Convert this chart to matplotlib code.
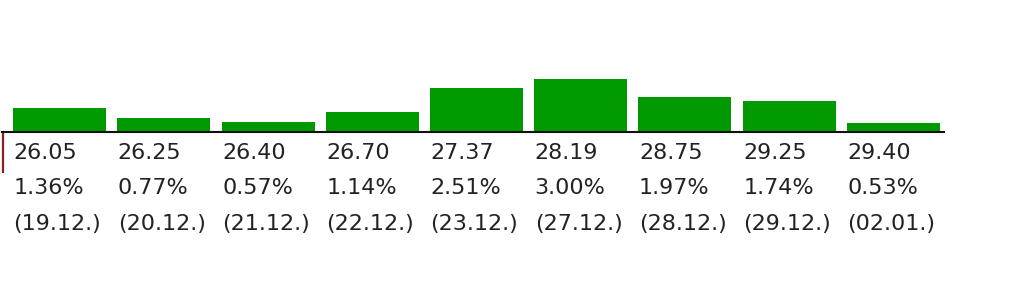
import matplotlib
matplotlib.use("Agg")
import matplotlib.pyplot as plt
import numpy as np

prices = ["26.05", "26.25", "26.40", "26.70", "27.37", "28.19", "28.75", "29.25", "29.40"]
changes = [1.36, 0.77, 0.57, 1.14, 2.51, 3.00, 1.97, 1.74, 0.53]
dates = ["19.12.", "20.12.", "21.12.", "22.12.", "23.12.", "27.12.", "28.12.", "29.12.", "02.01."]

DPI = 100
W, H = 1024, 282
PX_PER_PCT = 17.6
bar_w = 93 / 104.25

fig = plt.figure(figsize=(W / DPI, H / DPI), dpi=DPI)
fig.patch.set_facecolor("white")

# axes placed in pixel terms: baseline at y=132 from top
base_y = H - 132
ax_h = 4 * PX_PER_PCT
ax = fig.add_axes([2 / W, base_y / H, 942 / W, ax_h / H])

x = np.arange(len(changes))
ax.bar(x, changes, width=bar_w, color="#009a00", edgecolor="none")

x0 = -57.5 / 104.25
ax.set_xlim(x0, x0 + 942 / 104.25)
ax.set_ylim(0, 4)

for s in ["top", "right", "left"]:
    ax.spines[s].set_visible(False)
ax.spines["bottom"].set_linewidth(1.5)
ax.spines["bottom"].set_color("#111111")
ax.set_xticks([])
ax.set_yticks([])
ax.patch.set_alpha(0)

# small red marker at the left of the baseline
ax.plot([x0 + 1 / 104.25] * 2, [0, -41 / PX_PER_PCT], color="#8b1f1f",
        linewidth=1.6, clip_on=False, solid_capstyle="butt")

rows = [-27 / PX_PER_PCT, -62.5 / PX_PER_PCT, -98 / PX_PER_PCT]
fs = 16
for i in range(len(changes)):
    left = x[i] - bar_w / 2 + 0.5 / 104.25
    ax.text(left, rows[0], prices[i], fontsize=fs, color="#222222",
            va="baseline", ha="left", clip_on=False)
    ax.text(left, rows[1], f"{changes[i]:.2f}%", fontsize=fs, color="#222222",
            va="baseline", ha="left", clip_on=False)
    ax.text(left, rows[2], f"({dates[i]})", fontsize=fs, color="#222222",
            va="baseline", ha="left", clip_on=False)

fig.savefig("out.png", dpi=DPI)
